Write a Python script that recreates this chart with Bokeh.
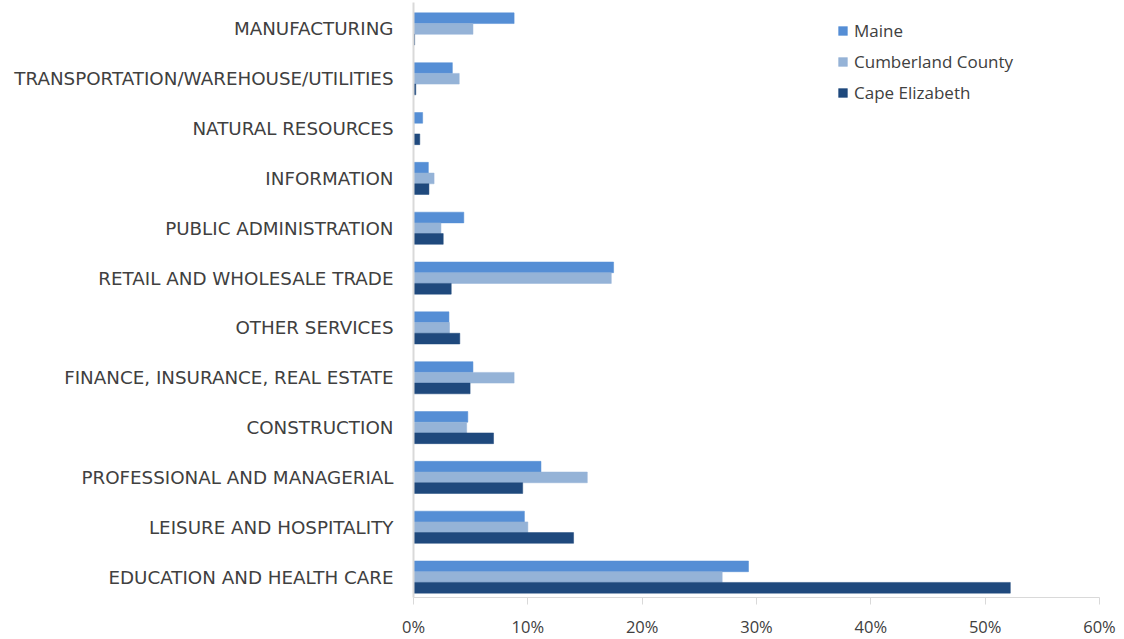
from bokeh.plotting import figure
from bokeh.models import FixedTicker, PrintfTickFormatter, Range1d, Legend, LegendItem, ColumnDataSource
from bokeh.embed import file_html
from bokeh.resources import INLINE

categories = [
    "MANUFACTURING",
    "TRANSPORTATION/WAREHOUSE/UTILITIES",
    "NATURAL RESOURCES",
    "INFORMATION",
    "PUBLIC ADMINISTRATION",
    "RETAIL AND WHOLESALE TRADE",
    "OTHER SERVICES",
    "FINANCE, INSURANCE, REAL ESTATE",
    "CONSTRUCTION",
    "PROFESSIONAL AND MANAGERIAL",
    "LEISURE AND HOSPITALITY",
    "EDUCATION AND HEALTH CARE",
]
series_names = ["Maine", "Cumberland County", "Cape Elizabeth"]
maine = [8.8, 3.4, 0.8, 1.3, 4.4, 17.5, 3.1, 5.2, 4.75, 11.15, 9.7, 29.3]
cumberland = [5.2, 4.0, 0.05, 1.8, 2.4, 17.3, 3.15, 8.8, 4.65, 15.2, 10.0, 27.0]
cape = [0.1, 0.2, 0.55, 1.35, 2.6, 3.3, 4.05, 4.95, 7.0, 9.55, 14.0, 52.2]
x_ticks = [0, 10, 20, 30, 40, 50, 60]

colors = ["#558ED5", "#95B3D7", "#1F497D"]
n = len(categories)
pos = [n - 1 - i for i in range(n)]  # top category gets highest position

p = figure(frame_width=686, frame_height=595, output_backend="svg", toolbar_location=None,
           x_range=Range1d(0, 60), y_range=Range1d(-0.41, 11.53),
           min_border_left=413, min_border_right=25, min_border_top=2, min_border_bottom=40)
p.outline_line_color = None
p.xgrid.visible = False
p.ygrid.visible = False

bar_h = 0.215
offsets = [bar_h, 0.0, -bar_h]
renderers = []
for vals, off, col in zip([maine, cumberland, cape], offsets, colors):
    src = ColumnDataSource(dict(y=[q + off for q in pos], right=vals))
    r = p.hbar(y="y", right="right", left=0, height=bar_h, source=src,
               fill_color=col, line_color=col, line_width=0.5)
    renderers.append(r)

# x axis
p.xaxis.ticker = FixedTicker(ticks=x_ticks)
p.xaxis.formatter = PrintfTickFormatter(format="%d%%")
p.xaxis.axis_line_color = "#D9D9D9"
p.xaxis.major_tick_line_color = "#D9D9D9"
p.xaxis.major_tick_out = 7
p.xaxis.major_tick_in = 0
p.xaxis.minor_tick_line_color = None
p.xaxis.major_label_standoff = 10
p.xaxis.major_label_text_font = "Open Sans"
p.xaxis.major_label_text_font_size = "16.5px"
p.xaxis.major_label_text_color = "#404040"

# y axis
p.yaxis.ticker = FixedTicker(ticks=pos)
p.yaxis.major_label_overrides = {q: c for q, c in zip(pos, categories)}
p.yaxis.axis_line_color = "#D9D9D9"
p.yaxis.axis_line_width = 2
p.yaxis.major_tick_line_color = None
p.yaxis.minor_tick_line_color = None
p.yaxis.major_label_standoff = 14
p.yaxis.major_label_text_font = "DejaVu Sans"
p.yaxis.major_label_text_font_size = "18.3px"
p.yaxis.major_label_text_color = "#404040"

legend = Legend(items=[LegendItem(label=nm, renderers=[r]) for nm, r in zip(series_names, renderers)],
                location=(424, 493))
legend.padding = 0
legend.margin = 0
legend.border_line_color = None
legend.background_fill_alpha = 0
legend.glyph_width = 11
legend.glyph_height = 11
legend.label_height = 23
legend.spacing = 8
legend.label_standoff = 6
legend.label_text_font = "Open Sans"
legend.label_text_font_size = "17px"
legend.label_text_color = "#404040"
p.add_layout(legend, "center")

open("out.html", "w").write(file_html(p, INLINE))
